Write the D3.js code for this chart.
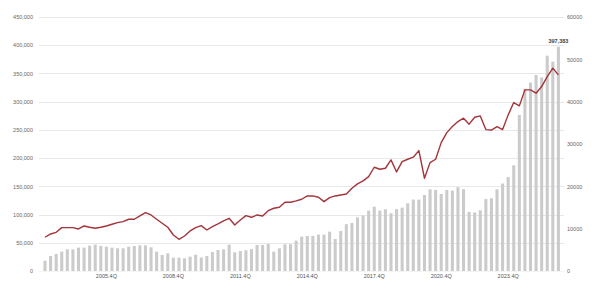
<!DOCTYPE html>
<html>
<head>
<meta charset="utf-8">
<script src="https://cdn.jsdelivr.net/npm/d3@7"></script>
<style>
  html, body { margin: 0; padding: 0; background: #fff; }
  text { font-family: "Liberation Sans", "DejaVu Sans", sans-serif; }
</style>
</head>
<body>
<div id="chart"></div>
<script>
var width = 600,
    height = 290;

// quarters, bars (left axis) and line (right axis)
var categories = [
  "2003.1Q","2003.2Q","2003.3Q","2003.4Q","2004.1Q","2004.2Q","2004.3Q","2004.4Q",
  "2005.1Q","2005.2Q","2005.3Q","2005.4Q","2006.1Q","2006.2Q","2006.3Q","2006.4Q",
  "2007.1Q","2007.2Q","2007.3Q","2007.4Q","2008.1Q","2008.2Q","2008.3Q","2008.4Q",
  "2009.1Q","2009.2Q","2009.3Q","2009.4Q","2010.1Q","2010.2Q","2010.3Q","2010.4Q",
  "2011.1Q","2011.2Q","2011.3Q","2011.4Q","2012.1Q","2012.2Q","2012.3Q","2012.4Q",
  "2013.1Q","2013.2Q","2013.3Q","2013.4Q","2014.1Q","2014.2Q","2014.3Q","2014.4Q",
  "2015.1Q","2015.2Q","2015.3Q","2015.4Q","2016.1Q","2016.2Q","2016.3Q","2016.4Q",
  "2017.1Q","2017.2Q","2017.3Q","2017.4Q","2018.1Q","2018.2Q","2018.3Q","2018.4Q",
  "2019.1Q","2019.2Q","2019.3Q","2019.4Q","2020.1Q","2020.2Q","2020.3Q","2020.4Q",
  "2021.1Q","2021.2Q","2021.3Q","2021.4Q","2022.1Q","2022.2Q","2022.3Q","2022.4Q",
  "2023.1Q","2023.2Q","2023.3Q","2023.4Q","2024.1Q","2024.2Q","2024.3Q","2024.4Q",
  "2025.1Q","2025.2Q","2025.3Q","2025.4Q","2026.1Q"
];

var barValues = [
  18300, 26600, 30100, 34300, 38400, 38400, 41400, 41400, 44900, 46700,
  44300, 43100, 41400, 40200, 40200, 43100, 44300, 45500, 45500, 42000,
  34300, 28400, 31300, 23600, 23600, 22400, 25400, 28900, 24000, 26500,
  33500, 37200, 38400, 46700, 33100, 35500, 36700, 39000, 46100, 46100,
  47900, 34300, 40200, 47300, 47300, 53800, 60900, 62100, 62100, 64500,
  64500, 69700, 56700, 70900, 83000, 85000, 95000, 98500, 106900, 114000,
  106900, 109400, 102300, 109700, 112200, 120000, 126500, 126500, 134700, 144800,
  143600, 136500, 143600, 142400, 148400, 145000, 104600, 103700, 107500, 127400,
  128900, 144800, 154900, 166300, 187300, 276600, 323000, 333900, 347300, 343000,
  381500, 370800, 397383
];

var lineValues = [
  7970, 8750, 9140, 10240, 10240, 10240, 9930, 10640, 10330, 10090,
  10330, 10640, 11040, 11420, 11660, 12220, 12220, 13000, 13780, 13240,
  12220, 11280, 10330, 8510, 7490, 8270, 9460, 10240, 10710, 9690,
  10480, 11110, 11820, 12450, 10870, 12060, 13070, 12690, 13240, 13000,
  14260, 14820, 15060, 16240, 16240, 16550, 16950, 17730, 17730, 17420,
  16380, 17330, 17730, 17960, 18200, 19550, 20570, 21280, 22300, 24510,
  24040, 24270, 26240, 23400, 25840, 26400, 26880, 28440, 21910, 25600,
  26400, 30330, 32690, 34110, 35300, 36100, 34680, 36330, 36640, 33400,
  33300, 34100, 33400, 36880, 39790, 39010, 42790, 42790, 42000, 43570,
  45930, 47920, 46330
];

var tickLabels = ["2005.4Q", "2008.4Q", "2011.4Q", "2014.4Q", "2017.4Q", "2020.4Q", "2023.4Q"];
var leftTicks = [0, 50000, 100000, 150000, 200000, 250000, 300000, 350000, 400000, 450000];
var rightTicks = [0, 10000, 20000, 30000, 40000, 50000, 60000];

var svg = d3.select("#chart").append("svg")
    .attr("width", width)
    .attr("height", height);

var x = d3.scaleBand()
    .domain(categories)
    .range([41.8, 561.6])
    .paddingInner(0.45)
    .paddingOuter(0.3);

var yLeft = d3.scaleLinear().domain([0, 450000]).range([271, 17]);
var yRight = d3.scaleLinear().domain([0, 60000]).range([271, 17]);

// grid
svg.append("g")
    .selectAll("line")
    .data(leftTicks)
    .enter().append("line")
    .attr("x1", 39)
    .attr("x2", 564)
    .attr("y1", function(d) { return Math.round(yLeft(d)) + 0.5; })
    .attr("y2", function(d) { return Math.round(yLeft(d)) + 0.5; })
    .style("stroke", function(d) { return d === 0 ? "#f4f4f4" : "#e8e8e8"; })
    .style("stroke-width", 1);

// left axis
var leftAxis = d3.axisLeft(yLeft)
    .tickValues(leftTicks)
    .tickSize(0)
    .tickPadding(0)
    .tickFormat(d3.format(","));

var gl = svg.append("g")
    .attr("transform", "translate(33,0)")
    .call(leftAxis);
gl.select(".domain").remove();
gl.selectAll("text")
    .style("font-size", "5.5px")
    .style("fill", "#666");

// right axis
var rightAxis = d3.axisRight(yRight)
    .tickValues(rightTicks)
    .tickSize(0)
    .tickPadding(0)
    .tickFormat(d3.format("d"));

var gr = svg.append("g")
    .attr("transform", "translate(567,0)")
    .call(rightAxis);
gr.select(".domain").remove();
gr.selectAll("text")
    .style("font-size", "5.5px")
    .style("fill", "#666");

// x axis
var xAxis = d3.axisBottom(x)
    .tickValues(tickLabels)
    .tickSize(0)
    .tickPadding(0);

var gx = svg.append("g")
    .attr("transform", "translate(0,274)")
    .call(xAxis);
gx.select(".domain").remove();
gx.selectAll("text")
    .style("font-size", "5.5px")
    .style("fill", "#555");

// bars
svg.append("g")
    .selectAll("rect")
    .data(barValues)
    .enter().append("rect")
    .attr("x", function(d, i) { return x(categories[i]); })
    .attr("width", x.bandwidth())
    .attr("y", function(d) { return yLeft(d); })
    .attr("height", function(d) { return yLeft(0) - yLeft(d); })
    .style("fill", "#cbcbcb");

// line
var line = d3.line()
    .x(function(d, i) { return x(categories[i]) + x.bandwidth() / 2; })
    .y(function(d) { return yRight(d); });

svg.append("path")
    .datum(lineValues)
    .attr("d", line)
    .style("fill", "none")
    .style("stroke", "#a3343a")
    .style("stroke-width", 1.4)
    .style("stroke-linejoin", "round");

// last value label
var last = barValues.length - 1;
svg.append("text")
    .attr("x", x(categories[last]) + x.bandwidth() / 2)
    .attr("y", yLeft(barValues[last]) - 4)
    .attr("text-anchor", "middle")
    .style("font-size", "5.5px")
    .style("font-weight", "bold")
    .style("fill", "#444")
    .text(d3.format(",")(barValues[last]));
</script>
</body>
</html>
